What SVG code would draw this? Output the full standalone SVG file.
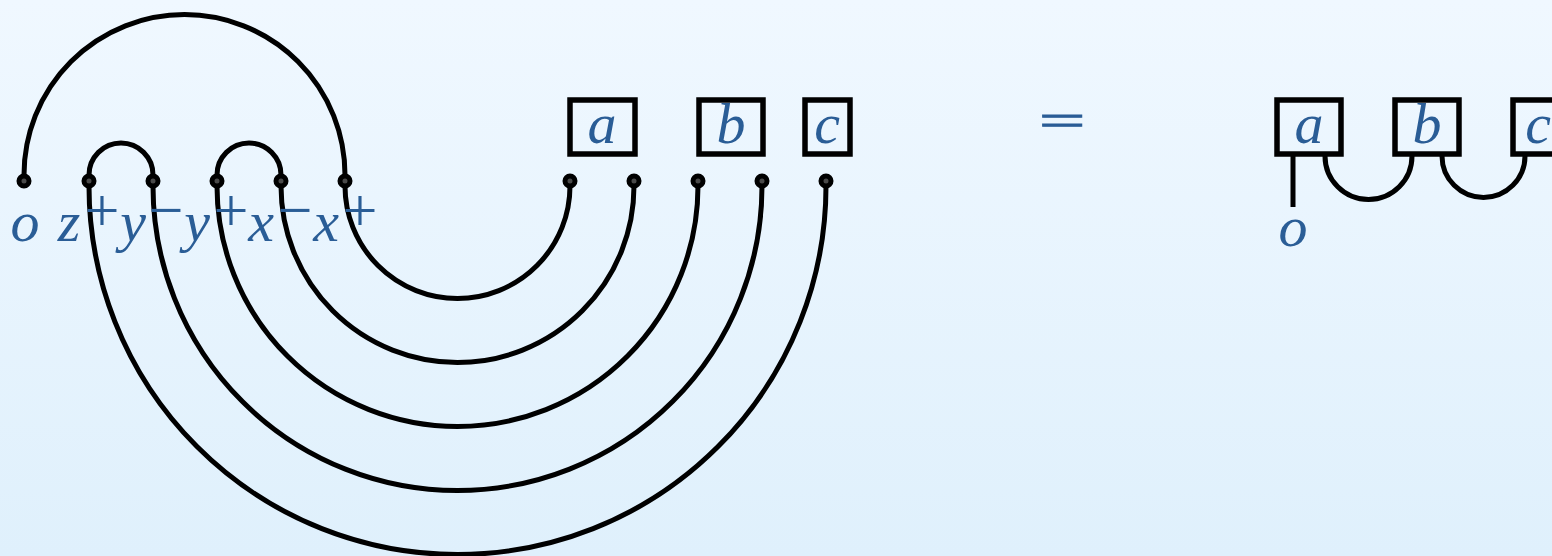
<svg xmlns="http://www.w3.org/2000/svg" width="1552" height="556" viewBox="0 0 1552 556">
<defs>
<linearGradient id="bg" x1="0" y1="0" x2="0" y2="1">
<stop offset="0" stop-color="#f0f8ff"/>
<stop offset="1" stop-color="#dff0fc"/>
</linearGradient>
<style>
.w{fill:none;stroke:#000;stroke-width:5}
.d{fill:#4a4a4a;stroke:#000;stroke-width:5}
.bx{fill:none;stroke:#000;stroke-width:5.5}
.t{font-family:"Liberation Serif",serif;font-style:italic;font-size:58px;fill:#2a5d96;text-anchor:middle}
.s{font-family:"Liberation Serif",serif;font-size:62px;fill:#2a5d96;text-anchor:middle}
</style>
</defs>
<rect width="1552" height="556" fill="url(#bg)"/>
<g id="connectors">
<path class="w" d="M24 181V175A160.5 160.5 0 0 1 345 175V181"/>
<path class="w" d="M89 181V175A32 32 0 0 1 153 175V181"/>
<path class="w" d="M217 181V175A32 32 0 0 1 281 175V181"/>
<path class="w" d="M345 181V186A112.5 112.5 0 0 0 570 186V181"/>
<path class="w" d="M281 181V186A176.5 176.5 0 0 0 634 186V181"/>
<path class="w" d="M217 181V186A240.5 240.5 0 0 0 698 186V181"/>
<path class="w" d="M153 181V186A304.5 304.5 0 0 0 762 186V181"/>
<path class="w" d="M89 181V186A368.5 368.5 0 0 0 826 186V181"/>
<path class="w" d="M1293 156V207"/>
<path class="w" d="M1325 156A43.5 43.5 0 0 0 1412 156"/>
<path class="w" d="M1442 156A41.5 41.5 0 0 0 1525 156"/>
</g>
<g id="dots">
<circle class="d" cx="24" cy="181" r="5"/>
<circle class="d" cx="89" cy="181" r="5"/>
<circle class="d" cx="153" cy="181" r="5"/>
<circle class="d" cx="217" cy="181" r="5"/>
<circle class="d" cx="281" cy="181" r="5"/>
<circle class="d" cx="345" cy="181" r="5"/>
<circle class="d" cx="570" cy="181" r="5"/>
<circle class="d" cx="634" cy="181" r="5"/>
<circle class="d" cx="698" cy="181" r="5"/>
<circle class="d" cx="762" cy="181" r="5"/>
<circle class="d" cx="826" cy="181" r="5"/>
</g>
<g id="labels">
<text class="t" x="25" y="241">o</text>
<text class="t" x="69" y="241">z</text>
<text class="s" x="102" y="231">+</text>
<text class="t" x="133" y="241">y</text>
<text class="s" x="166" y="231">−</text>
<text class="t" x="197" y="241">y</text>
<text class="s" x="231" y="231">+</text>
<text class="t" x="261" y="241">x</text>
<text class="s" x="295" y="231">−</text>
<text class="t" x="326" y="241">x</text>
<text class="s" x="360" y="231">+</text>
</g>
<g id="box-a"><rect class="bx" x="570" y="100" width="65" height="54"/><text class="t" x="602" y="143">a</text></g>
<g id="box-b"><rect class="bx" x="699" y="100" width="64" height="54"/><text class="t" x="731" y="143">b</text></g>
<g id="box-c"><rect class="bx" x="805" y="100" width="45" height="54"/><text class="t" x="827" y="143">c</text></g>
<g id="equals"><text class="s" transform="translate(1062,135) scale(1,0.55)" x="0" y="0" style="font-size:82px;stroke:#2a5d96;stroke-width:2">=</text></g>
<g id="box-a2"><rect class="bx" x="1277" y="100" width="64" height="54"/><text class="t" x="1309" y="143">a</text></g>
<g id="box-b2"><rect class="bx" x="1395" y="100" width="64" height="54"/><text class="t" x="1427" y="143">b</text></g>
<g id="box-c2"><rect class="bx" x="1513" y="100" width="64" height="54"/><text class="t" x="1538" y="143">c</text></g>
<g id="label-o2"><text class="t" x="1293" y="246">o</text></g>
</svg>
